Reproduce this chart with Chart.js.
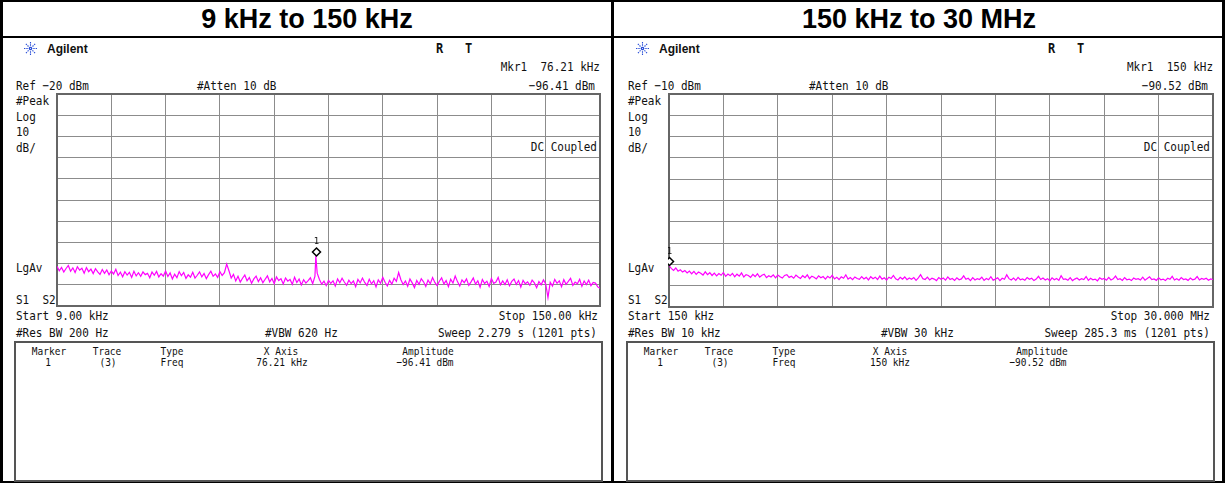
<!DOCTYPE html>
<html>
<head>
<meta charset="utf-8">
<script src="https://cdn.jsdelivr.net/npm/chart.js@4.4.1/dist/chart.umd.min.js"></script>
<style>
html,body{margin:0;padding:0;background:#fff;}
#page{position:relative;width:1225px;height:483px;overflow:hidden;background:#fff;}
.line{position:absolute;background:#000;}
.t{position:absolute;white-space:pre;line-height:1;color:#111;font-family:'DejaVu Sans Mono',monospace;font-size:11px;transform:translateY(-50%) scaleY(1.18);}
.r{text-align:right;}
.c{transform:translate(-50%,-50%) scaleY(1.18);}
.tb{font-size:9.5px;}
.title{position:absolute;font-family:'Liberation Sans',Arial,sans-serif;font-weight:bold;font-size:27px;line-height:1;transform:translate(-50%,-50%);white-space:pre;color:#000;}
.ag{position:absolute;font-family:'Liberation Sans',Arial,sans-serif;font-weight:bold;font-size:12px;line-height:1;transform:translateY(-50%);color:#111;}
.rt{position:absolute;font-family:'DejaVu Sans Mono',monospace;font-weight:bold;font-size:12px;line-height:1;transform:translateY(-50%) scaleY(1.15);white-space:pre;color:#111;}
.box{position:absolute;border:2px solid #555;box-sizing:border-box;}
canvas{position:absolute;}
</style>
</head>
<body>
<div id="page">
  <div class="line" style="left:0;top:0;width:1225px;height:2px;"></div>
  <div class="line" style="left:0;top:481px;width:1225px;height:2px;"></div>
  <div class="line" style="left:0;top:0;width:3px;height:483px;"></div>
  <div class="line" style="left:611px;top:0;width:3px;height:483px;"></div>
  <div class="line" style="left:1222px;top:0;width:3px;height:483px;"></div>
  <div class="line" style="left:0;top:36px;width:1225px;height:2px;"></div>

  <div class="title" style="left:307px;top:19px;">9 kHz to 150 kHz</div>
  <div class="title" style="left:919px;top:19px;">150 kHz to 30 MHz</div>

  <!-- left panel texts -->
  <svg style="position:absolute;left:24px;top:42px;" width="13" height="13" viewBox="0 0 14 14">
    <g stroke="#2a4fd8" stroke-width="1.2" stroke-dasharray="1.5 1">
      <line x1="7" y1="0" x2="7" y2="14"/><line x1="0" y1="7" x2="14" y2="7"/>
      <line x1="2" y1="2" x2="12" y2="12"/><line x1="12" y1="2" x2="2" y2="12"/>
    </g>
  </svg>
  <div class="ag" style="left:47px;top:49px;">Agilent</div>
  <div class="rt" style="left:436px;top:48px;">R   T</div>
  <div class="t r" style="right:625px;top:67px;">Mkr1  76.21 kHz</div>
  <div class="t" style="left:16px;top:86px;">Ref −20 dBm</div>
  <div class="t" style="left:197px;top:86px;">#Atten 10 dB</div>
  <div class="t r" style="right:630px;top:86px;">−96.41 dBm</div>
  <div class="t" style="left:16px;top:101px;">#Peak</div>
  <div class="t" style="left:16px;top:117px;">Log</div>
  <div class="t" style="left:16px;top:132px;">10</div>
  <div class="t" style="left:16px;top:148px;">dB/</div>
  <div class="t r" style="right:628px;top:147px;">DC Coupled</div>
  <div class="t" style="left:16px;top:268px;">LgAv</div>
  <div class="t" style="left:16px;top:300px;">S1  S2</div>
  <div class="t" style="left:16px;top:316px;">Start 9.00 kHz</div>
  <div class="t r" style="right:627px;top:316px;">Stop 150.00 kHz</div>
  <div class="t" style="left:16px;top:333px;">#Res BW 200 Hz</div>
  <div class="t" style="left:265px;top:333px;">#VBW 620 Hz</div>
  <div class="t r" style="right:628px;top:333px;">Sweep 2.279 s (1201 pts)</div>
  <div class="box" style="left:14px;top:341px;width:589px;height:141px;"></div>
  <div class="t c tb" style="left:49px;top:351px;">Marker</div>
  <div class="t c tb" style="left:107px;top:351px;">Trace</div>
  <div class="t c tb" style="left:172px;top:351px;">Type</div>
  <div class="t c tb" style="left:281px;top:351px;">X Axis</div>
  <div class="t c tb" style="left:428px;top:351px;">Amplitude</div>
  <div class="t c tb" style="left:48px;top:362px;">1</div>
  <div class="t c tb" style="left:108px;top:362px;">(3)</div>
  <div class="t c tb" style="left:172px;top:362px;">Freq</div>
  <div class="t c tb" style="left:282px;top:362px;">76.21 kHz</div>
  <div class="t c tb" style="left:425px;top:362px;">−96.41 dBm</div>

  <!-- right panel texts -->
  <svg style="position:absolute;left:636px;top:42px;" width="13" height="13" viewBox="0 0 14 14">
    <g stroke="#2a4fd8" stroke-width="1.2" stroke-dasharray="1.5 1">
      <line x1="7" y1="0" x2="7" y2="14"/><line x1="0" y1="7" x2="14" y2="7"/>
      <line x1="2" y1="2" x2="12" y2="12"/><line x1="12" y1="2" x2="2" y2="12"/>
    </g>
  </svg>
  <div class="ag" style="left:659px;top:49px;">Agilent</div>
  <div class="rt" style="left:1048px;top:48px;">R   T</div>
  <div class="t r" style="right:12px;top:67px;">Mkr1  150 kHz</div>
  <div class="t" style="left:628px;top:86px;">Ref −10 dBm</div>
  <div class="t" style="left:809px;top:86px;">#Atten 10 dB</div>
  <div class="t r" style="right:17px;top:86px;">−90.52 dBm</div>
  <div class="t" style="left:628px;top:101px;">#Peak</div>
  <div class="t" style="left:628px;top:117px;">Log</div>
  <div class="t" style="left:628px;top:132px;">10</div>
  <div class="t" style="left:628px;top:148px;">dB/</div>
  <div class="t r" style="right:15px;top:147px;">DC Coupled</div>
  <div class="t" style="left:628px;top:268px;">LgAv</div>
  <div class="t" style="left:628px;top:300px;">S1  S2</div>
  <div class="t" style="left:628px;top:316px;">Start 150 kHz</div>
  <div class="t r" style="right:15px;top:316px;">Stop 30.000 MHz</div>
  <div class="t" style="left:628px;top:333px;">#Res BW 10 kHz</div>
  <div class="t" style="left:881px;top:333px;">#VBW 30 kHz</div>
  <div class="t r" style="right:15px;top:333px;">Sweep 285.3 ms (1201 pts)</div>
  <div class="box" style="left:626px;top:341px;width:589px;height:141px;"></div>
  <div class="t c tb" style="left:661px;top:351px;">Marker</div>
  <div class="t c tb" style="left:719px;top:351px;">Trace</div>
  <div class="t c tb" style="left:784px;top:351px;">Type</div>
  <div class="t c tb" style="left:890px;top:351px;">X Axis</div>
  <div class="t c tb" style="left:1042px;top:351px;">Amplitude</div>
  <div class="t c tb" style="left:660px;top:362px;">1</div>
  <div class="t c tb" style="left:720px;top:362px;">(3)</div>
  <div class="t c tb" style="left:784px;top:362px;">Freq</div>
  <div class="t c tb" style="left:890px;top:362px;">150 kHz</div>
  <div class="t c tb" style="left:1038px;top:362px;">−90.52 dBm</div>

  <canvas id="cL" width="545" height="214" style="left:56px;top:93px;"></canvas>
  <canvas id="cR" width="546" height="215" style="left:668px;top:93px;"></canvas>
</div>
<script>
// ---------- data: 9 kHz to 150 kHz ----------
const leftStartKHz = 9;
const leftStopKHz = 150;
const leftRefDbm = -20;
const leftDbPerDiv = 10;
const leftTrace = [
 -101.2,-103.4,-101.8,-104.0,-102.3,-100.9,-103.6,-102.0,-104.2,-101.5,
 -103.1,-102.2,-104.5,-101.9,-103.8,-102.6,-104.7,-102.4,-103.9,-105.1,
 -102.8,-104.6,-103.0,-105.3,-103.5,-104.9,-102.7,-105.6,-104.0,-106.2,
 -103.8,-105.4,-104.1,-106.5,-103.6,-105.8,-104.3,-106.0,-103.9,-105.2,
 -104.6,-106.7,-104.0,-105.5,-103.7,-106.3,-104.8,-105.9,-103.5,-106.1,
 -104.4,-107.2,-105.0,-106.6,-103.8,-105.7,-104.2,-107.0,-105.3,-106.4,
 -104.1,-106.8,-105.5,-103.9,-106.2,-104.7,-107.1,-105.2,-103.6,-106.0,
 -104.9,-106.5,-103.8,-105.6,-104.3,-100.2,-103.4,-106.8,-105.1,-108.2,
 -106.0,-108.7,-106.9,-105.4,-108.1,-106.6,-109.3,-107.2,-105.9,-108.5,
 -106.7,-109.0,-107.4,-105.8,-108.6,-107.0,-109.4,-106.3,-108.0,-107.1,
 -109.6,-106.8,-108.3,-107.5,-109.8,-106.4,-108.9,-107.3,-110.1,-107.6,
 -109.2,-108.0,-106.7,-109.5,-106.0,-104.5,-107.5,-109.7,-108.3,-110.4,
 -107.9,-109.3,-108.1,-110.6,-107.2,-109.0,-106.9,-108.7,-110.2,-107.8,
 -109.4,-108.2,-110.9,-107.5,-109.1,-106.8,-108.9,-110.3,-107.4,-109.6,
 -108.1,-111.0,-107.7,-109.3,-106.5,-108.8,-110.5,-107.9,-109.7,-106.9,
 -108.4,-104.2,-107.6,-109.9,-108.2,-110.7,-107.3,-109.1,-111.3,-108.0,
 -109.8,-107.1,-108.6,-110.8,-107.8,-109.5,-106.6,-108.9,-110.4,-108.3,
 -106.7,-109.6,-108.0,-110.9,-107.4,-109.2,-105.9,-108.5,-110.6,-107.7,
 -109.0,-107.2,-110.3,-108.6,-106.8,-109.7,-108.1,-111.2,-107.5,-109.4,
 -108.3,-110.8,-107.0,-109.3,-108.7,-106.5,-110.0,-108.2,-109.9,-107.6,
 -110.5,-108.4,-107.3,-109.8,-108.0,-111.1,-107.9,-109.5,-108.6,-110.2,
 -107.8,-109.1,-111.4,-108.5,-110.0,-107.7,-109.6,-116.0,-108.8,-110.6,
 -107.5,-109.3,-108.1,-110.9,-107.6,-109.8,-108.4,-106.9,-110.3,-108.7,
 -109.5,-107.4,-110.7,-108.2,-109.9,-107.8,-110.4,-108.9,-109.2,-111.0,
 -111.6
];
const leftMarkerFreqKHz = [76.21];
const leftMarkerAmpDbm = [-96.41];

// ---------- data: 150 kHz to 30 MHz ----------
const rightStartMHz = 0.15;
const rightStopMHz = 30;
const rightRefDbm = -10;
const rightDbPerDiv = 10;
const rightTrace = [
 -90.5,-91.9,-92.8,-91.7,-93.2,-92.5,-93.6,-92.9,-94.0,-93.1,
 -94.4,-93.3,-94.7,-93.6,-94.2,-95.0,-93.5,-94.8,-93.9,-95.2,
 -94.1,-95.4,-94.3,-95.1,-93.8,-95.6,-94.5,-95.3,-94.2,-95.8,
 -94.6,-95.5,-94.0,-95.9,-94.8,-95.2,-96.1,-94.7,-95.7,-94.4,
 -96.0,-95.1,-94.6,-96.2,-95.3,-95.9,-94.9,-96.3,-95.0,-95.8,
 -96.4,-95.2,-94.8,-96.1,-95.6,-96.5,-95.0,-95.9,-96.6,-95.3,
 -96.2,-94.9,-96.7,-95.5,-96.0,-96.8,-95.4,-96.3,-95.7,-96.9,
 -95.6,-96.4,-95.1,-96.8,-96.0,-97.1,-95.8,-96.5,-94.9,-96.9,
 -96.2,-97.2,-95.9,-96.6,-97.0,-95.7,-96.8,-96.1,-97.3,-95.8,
 -96.7,-96.0,-97.1,-95.5,-96.9,-96.3,-97.4,-96.0,-96.6,-95.2,
 -96.8,-97.3,-96.1,-96.9,-95.9,-97.2,-96.4,-97.0,-96.2,-97.5,
 -96.3,-94.8,-96.7,-97.1,-96.0,-97.3,-96.5,-96.9,-97.6,-96.2,
 -97.0,-96.4,-97.4,-95.9,-97.1,-96.6,-97.5,-96.3,-97.2,-96.8,
 -95.4,-97.0,-96.5,-97.6,-96.2,-97.3,-96.7,-97.1,-96.0,-97.5,
 -96.6,-97.2,-95.8,-97.4,-96.9,-96.3,-97.6,-96.5,-97.0,-94.9,
 -96.7,-97.3,-96.4,-97.5,-96.1,-97.2,-96.8,-97.4,-96.2,-97.0,
 -96.5,-97.6,-96.9,-95.6,-97.1,-96.4,-97.3,-96.7,-97.7,-96.3,
 -97.2,-96.6,-97.5,-95.3,-97.0,-96.8,-97.4,-96.2,-97.6,-96.9,
 -96.4,-97.3,-96.7,-97.1,-95.7,-97.5,-96.5,-97.2,-96.9,-97.7,
 -96.3,-97.0,-96.6,-97.4,-96.1,-97.3,-96.8,-95.5,-97.1,-96.7,
 -97.5,-96.2,-97.2,-96.9,-97.6,-96.4,-97.0,-96.7,-97.3,-96.0,
 -97.4,-96.6,-95.8,-97.1,-96.8,-97.5,-96.3,-97.2,-96.9,-97.6,
 -96.5,-97.0,-95.6,-97.3,-96.7,-97.4,-96.2,-97.1,-96.8,-97.5,
 -96.4,-97.2,-96.9,-95.7,-97.3,-96.6,-97.0,-96.5,-97.4,-96.8,
 -97.1
];
const rightMarkerFreqMHz = [0.15];
const rightMarkerAmpDbm = [-90.52];

const DIVS = 10;

function buildPoints(start, stop, values, mFreqs, mAmps) {
  const n = values.length;
  const pts = values.map((v, i) => ({x: start + i * (stop - start) / (n - 1), y: v}));
  mFreqs.forEach((f, k) => pts.push({x: f, y: mAmps[k]}));
  pts.sort((a, b) => a.x - b.x);
  return pts;
}

const framePlugin = {
  id: 'frame',
  beforeDatasetsDraw(chart) {
    const a = chart.chartArea, ctx = chart.ctx;
    ctx.save();
    ctx.strokeStyle = '#666';
    ctx.lineWidth = 2;
    ctx.strokeRect(a.left, a.top, a.right - a.left, a.bottom - a.top);
    ctx.restore();
  }
};

const markerPlugin = {
  id: 'mkr',
  afterDatasetsDraw(chart) {
    const ds = chart.data.datasets[1];
    const ctx = chart.ctx, xs = chart.scales.x, ys = chart.scales.y;
    ctx.save();
    ds.data.forEach((p, k) => {
      const px = Math.round(xs.getPixelForValue(p.x)) + 0.5;
      const cy = ys.getPixelForValue(p.y) - 4;
      ctx.beginPath();
      ctx.moveTo(px, cy - 4); ctx.lineTo(px + 4, cy); ctx.lineTo(px, cy + 4); ctx.lineTo(px - 4, cy); ctx.closePath();
      ctx.fillStyle = '#fff'; ctx.fill();
      ctx.strokeStyle = '#000'; ctx.lineWidth = 1.5; ctx.stroke();
      ctx.fillStyle = '#111';
      ctx.font = '9px "DejaVu Sans Mono", monospace';
      ctx.textAlign = 'center'; ctx.textBaseline = 'middle';
      ctx.fillText(String(k + 1), px, cy - 10);
    });
    ctx.restore();
  }
};

function makeChart(id, start, stop, ref, perDiv, trace, mF, mA) {
  const bottom = ref - perDiv * DIVS;
  const divTicks = (lo, hi) => Array.from({length: DIVS + 1}, (_, k) => ({value: lo + k * (hi - lo) / DIVS}));
  return new Chart(document.getElementById(id), {
    type: 'line',
    data: {
      datasets: [
        {
          data: buildPoints(start, stop, trace, mF, mA),
          borderColor: '#ff00ff', borderWidth: 1.2, pointRadius: 0, tension: 0, fill: false
        },
        {
          data: mF.map((f, k) => ({x: f, y: mA[k]})),
          showLine: false, pointRadius: 0, borderColor: 'rgba(0,0,0,0)'
        }
      ]
    },
    options: {
      responsive: false, animation: false, devicePixelRatio: 1,
      layout: {padding: {left: 1, right: 1, top: 1, bottom: 1}},
      plugins: {legend: {display: false}, tooltip: {enabled: false}},
      scales: {
        x: {
          type: 'linear', min: start, max: stop,
          afterBuildTicks: s => { s.ticks = divTicks(start, stop); },
          ticks: {display: false},
          grid: {color: '#8c8c8c', lineWidth: 1, drawTicks: false},
          border: {display: false}
        },
        y: {
          type: 'linear', min: bottom, max: ref,
          afterBuildTicks: s => { s.ticks = divTicks(bottom, ref); },
          ticks: {display: false},
          grid: {color: '#8c8c8c', lineWidth: 1, drawTicks: false},
          border: {display: false}
        }
      }
    },
    plugins: [framePlugin, markerPlugin]
  });
}

makeChart('cL', leftStartKHz, leftStopKHz, leftRefDbm, leftDbPerDiv, leftTrace, leftMarkerFreqKHz, leftMarkerAmpDbm);
makeChart('cR', rightStartMHz, rightStopMHz, rightRefDbm, rightDbPerDiv, rightTrace, rightMarkerFreqMHz, rightMarkerAmpDbm);
</script>
</body>
</html>
